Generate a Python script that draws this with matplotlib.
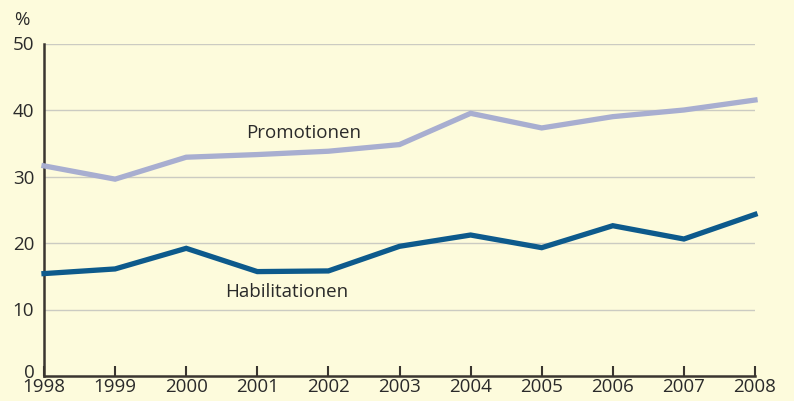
import matplotlib
matplotlib.use("Agg")
import matplotlib.pyplot as plt
from matplotlib.transforms import ScaledTranslation

years = [1998, 1999, 2000, 2001, 2002, 2003, 2004, 2005, 2006, 2007, 2008]
promotionen = [31.6, 29.6, 32.9, 33.3, 33.8, 34.8, 39.5, 37.3, 39.0, 40.0, 41.5]
habilitationen = [15.4, 16.1, 19.2, 15.7, 15.8, 19.5, 21.2, 19.3, 22.6, 20.6, 24.3]
yticks = [0, 10, 20, 30, 40, 50]

bg = "#fdfbdc"
plt.rcParams['font.family'] = ['Open Sans', 'DejaVu Sans']
fs = 13.5

fig = plt.figure(figsize=(7.94, 4.01), dpi=100, facecolor=bg)
ax = fig.add_axes([44/794, 25/401, (755-44)/794, (376-43.5)/401], facecolor=bg)

ax.set_xlim(1998, 2008)
ax.set_ylim(0, 50)

for y in yticks[1:]:
    ax.axhline(y, color="#cbcbc2", lw=1.0, zorder=1)

ax.plot(years, promotionen, color="#a8aed0", lw=3.8, zorder=3, clip_on=False, solid_joinstyle='miter')
ax.plot(years, habilitationen, color="#0d5a8c", lw=3.8, zorder=3, clip_on=False, solid_joinstyle='miter')

ax.text(2001.65, 36.5, "Promotionen", fontsize=fs, color="#2a2a2a", ha="center", va="center")
ax.text(2001.42, 12.7, "Habilitationen", fontsize=fs, color="#2a2a2a", ha="center", va="center")

for s in ["top", "right"]:
    ax.spines[s].set_visible(False)
for s in ["left", "bottom"]:
    ax.spines[s].set_color("#3a3530")
    ax.spines[s].set_linewidth(1.8)

ax.set_xticks(years)
ax.set_xticklabels([str(y) for y in years])
ax.set_yticks(yticks)
ax.tick_params(axis="x", direction="in", length=7, width=1.5, color="#3a3530", pad=1.5,
               labelsize=fs, labelcolor="#2a2a2a")
ax.tick_params(axis="y", length=0, pad=7, labelsize=fs, labelcolor="#2a2a2a")

# nudge the "0" label up slightly so it doesn't collide with "1998"
lbl0 = ax.get_yticklabels()[0]
lbl0.set_transform(lbl0.get_transform() + ScaledTranslation(0, 5/100, fig.dpi_scale_trans))

fig.text(22/794, 1 - 20/401, "%", fontsize=fs, color="#2a2a2a", ha="center", va="center")

fig.savefig("out.png", dpi=100, facecolor=bg)
